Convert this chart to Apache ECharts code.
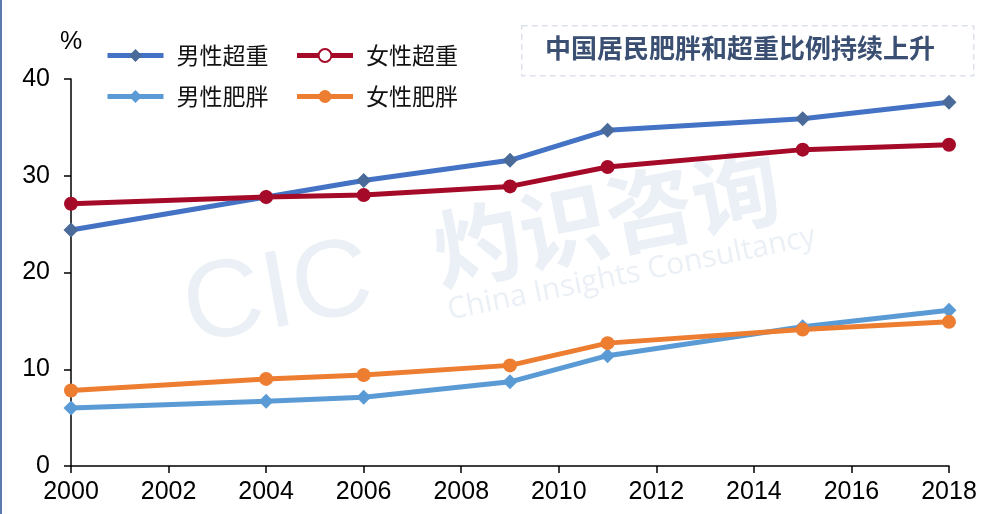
<!DOCTYPE html>
<html>
<head>
<meta charset="utf-8">
<script src="https://cdn.jsdelivr.net/npm/echarts@6/dist/echarts.min.js"></script>
<style>
  html, body { margin: 0; padding: 0; background: #fff; }
  #chart { width: 987px; height: 514px; }
</style>
</head>
<body>
<div id="chart"></div>
<script>
// 调查年份
const years = [2000, 2004, 2006, 2009, 2011, 2015, 2018];
// 各项比例 (%)
const maleOverweight = [24.4, 27.8, 29.5, 31.6, 34.7, 35.9, 37.6];
const femaleOverweight = [27.1, 27.8, 28.0, 28.9, 30.9, 32.7, 33.2];
const maleObese = [6.0, 6.7, 7.1, 8.7, 11.4, 14.4, 16.1];
const femaleObese = [7.8, 9.0, 9.4, 10.4, 12.7, 14.1, 14.9];

const pair = (vals) => years.map((y, i) => [y, vals[i]]);

const chart = echarts.init(document.getElementById('chart'));

const legendText = {
  fontFamily: '"Noto Sans CJK SC"',
  fontSize: 23,
  color: '#111',
  padding: [0, 0, 0, 8]
};
const axisFont = { fontFamily: 'Liberation Sans', fontSize: 25, color: '#000' };

const option = {
  animation: false,
  grid: { left: 71, right: 38, top: 79, bottom: 48 },
  legend: [
    {
      left: 100, top: 39, itemWidth: 56, itemHeight: 16, itemGap: 26,
      lineStyle: { width: 5 },
      textStyle: legendText,
      data: [
        { name: '男性超重' },
        { name: '女性超重', itemStyle: { color: '#fff', borderColor: '#A50A28', borderWidth: 2 } }
      ]
    },
    {
      left: 100, top: 80, itemWidth: 56, itemHeight: 16, itemGap: 26,
      lineStyle: { width: 5 },
      textStyle: legendText,
      data: ['男性肥胖', '女性肥胖']
    }
  ],
  xAxis: {
    type: 'value', min: 2000, max: 2018, interval: 2,
    axisLine: { lineStyle: { color: '#000', width: 1.5 } },
    axisTick: { show: true, length: 7, lineStyle: { color: '#000', width: 1.5 } },
    axisLabel: Object.assign({ margin: 14, formatter: (v) => String(v) }, axisFont),
    splitLine: { show: false }
  },
  yAxis: {
    type: 'value', min: 0, max: 40, interval: 10,
    name: '%', nameGap: 24,
    nameTextStyle: Object.assign({ align: 'center' }, axisFont),
    axisLine: { show: true, lineStyle: { color: '#000', width: 1.5 } },
    axisTick: { show: true, length: 7, lineStyle: { color: '#000', width: 1.5 } },
    axisLabel: Object.assign({ margin: 21 }, axisFont),
    splitLine: { show: false }
  },
  graphic: [
    { type: 'rect', left: 0, top: 0, shape: { width: 2, height: 514 }, style: { fill: '#5B7BAE' }, z: 10 },
    // 水印
    { type: 'text', left: 175, top: 225, rotation: 0.18, style: { text: 'CIC', fontFamily: 'Liberation Sans', fontSize: 110, fill: '#EBF0F6' }, z: -1 },
    { type: 'text', left: 425, top: 140, rotation: 0.2, style: { text: '灼识咨询', fontFamily: '"Noto Sans CJK SC"', fontWeight: 'bold', fontSize: 88, fill: '#EBF0F6' }, z: -1 },
    { type: 'text', left: 445, top: 222, rotation: 0.2, style: { text: 'China Insights Consultancy', fontFamily: 'Open Sans', fontSize: 30, fill: '#EBF0F6' }, z: -1 },
    // 标题框
    { type: 'rect', left: 521, top: 25, shape: { width: 452, height: 50 }, style: { fill: '#fff', stroke: '#DCE1EA', lineWidth: 1.5, lineDash: [6, 4] } },
    { type: 'text', left: 545, top: 35, style: { text: '中国居民肥胖和超重比例持续上升', fontFamily: '"Noto Sans CJK SC"', fontWeight: 'bold', fontSize: 26, fill: '#3A4F72' } }
  ],
  series: [
    {
      name: '男性超重', type: 'line', data: pair(maleOverweight),
      symbol: 'diamond', symbolSize: 15,
      lineStyle: { color: '#4472C4', width: 5 },
      itemStyle: { color: '#4A6A9A' }
    },
    {
      name: '女性超重', type: 'line', data: pair(femaleOverweight),
      symbol: 'circle', symbolSize: 14,
      lineStyle: { color: '#A50A28', width: 5 },
      itemStyle: { color: '#A50A28' }
    },
    {
      name: '男性肥胖', type: 'line', data: pair(maleObese),
      symbol: 'diamond', symbolSize: 15,
      lineStyle: { color: '#5B9BD5', width: 5 },
      itemStyle: { color: '#5B9BD5' }
    },
    {
      name: '女性肥胖', type: 'line', data: pair(femaleObese),
      symbol: 'circle', symbolSize: 14,
      lineStyle: { color: '#ED7D31', width: 5 },
      itemStyle: { color: '#ED7D31' }
    }
  ]
};

chart.setOption(option);
</script>
</body>
</html>
